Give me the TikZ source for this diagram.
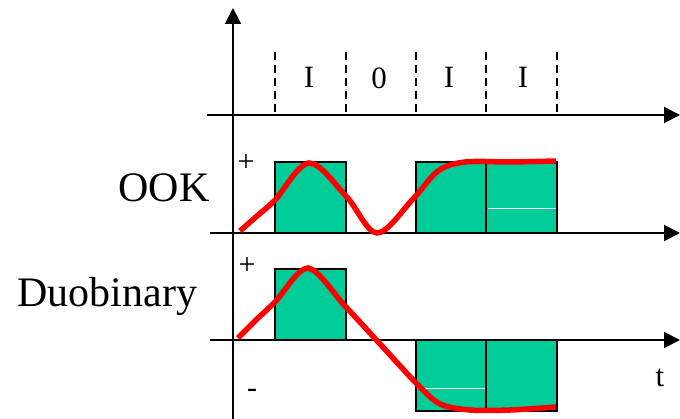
\documentclass[tikz,border=0pt]{standalone}
\usepackage{fontspec}
\setmainfont{Liberation Serif}
\usetikzlibrary{arrows.meta}
\definecolor{pulse}{RGB}{0,204,153}
\definecolor{signal}{RGB}{255,0,0}

\begin{document}
\begin{tikzpicture}[x=1pt, y=-1pt,
    axis/.style={line width=2pt, -{Triangle[length=16pt,width=16pt]}},
    slot/.style={line width=2.2pt, dash pattern=on 8pt off 5pt},
    bit/.style={draw=black, line width=1.5pt, fill=pulse},
    wave/.style={signal, line width=5.5pt},
    big/.style={font=\fontsize{42}{45}\selectfont},
    mid/.style={font=\fontsize{31}{34}\selectfont},
    small/.style={font=\fontsize{30}{32}\selectfont}]
    \useasboundingbox (0,0) rectangle (680,419);

    % axes
    \draw[axis] (233,419) -- (233,8);
    \draw[axis] (207,115) -- (680,115);
    \draw[axis] (210,233) -- (680,233);
    \draw[axis] (210,340) -- (680,340);

    % bit slots
    \foreach \x in {275,346,416,486,557}
        \draw[slot] (\x,52) -- (\x,115);
    \node[mid, anchor=base] (b1) at (309,88) {I};
    \node[mid, anchor=base] (b2) at (379,89) {0};
    \node[mid, anchor=base] (b3) at (449,88) {I};
    \node[mid, anchor=base] (b4) at (523,88) {I};

    % OOK
    \draw[bit] (275,162) rectangle (346,233);
    \draw[bit] (416,162) rectangle (486,233);
    \draw[bit] (486,162) rectangle (557,233);
    \draw[white, line width=1pt] (488,209) -- (556,209);
    \draw[wave] plot[smooth, tension=0.55] coordinates
        {(240,231) (257,216) (275,200) (309,163) (346,196) (377,233) (413,199) (438,171) (465,162) (510,162) (556,161)};
    \node[big, anchor=base east] (ook) at (213,202) {OOK};
    \node[small] (ookp) at (246,163) {+};

    % Duobinary
    \draw[bit] (275,269) rectangle (346,340);
    \draw[bit] (416,340) rectangle (486,411);
    \draw[bit] (486,340) rectangle (557,411);
    \draw[white, line width=1pt] (417,389) -- (485,389);
    \draw[wave] plot[smooth, tension=0.5] coordinates
        {(238,338) (256,320) (275,302) (308,268) (345,306) (381,345) (417,384) (440,404) (470,410) (510,410) (556,407)};
    \node[big, anchor=base west] (duo) at (14,307) {Duobinary};
    \node[small] (duop) at (247,266) {+};
    \node[small] (duom) at (252,393) {-};
    \node[mid, anchor=base] (tlab) at (660,387) {t};
\end{tikzpicture}
\end{document}
